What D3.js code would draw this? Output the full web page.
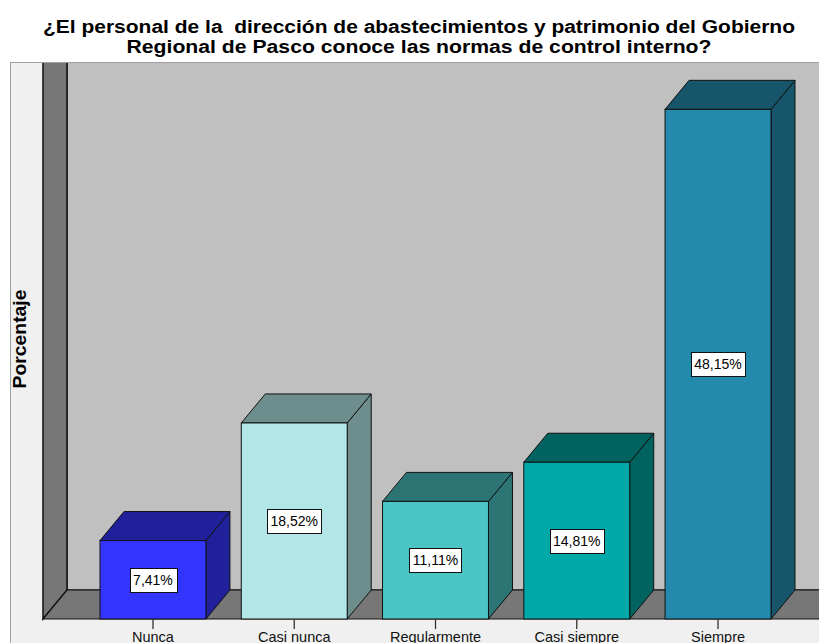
<html>
<head>
<meta charset="utf-8">
<script src="https://d3js.org/d3.v7.min.js"></script>
<style>
  body { margin: 0; background: #fff; }
  text { font-family: Arial, "Liberation Sans", sans-serif; }
</style>
</head>
<body>
<script>
// data
var categories = ["Nunca", "Casi nunca", "Regularmente", "Casi siempre", "Siempre"];
var values = [7.41, 18.52, 11.11, 14.81, 48.15];
var frontColors = ["#3434ff", "#b3e6e6", "#4bc4c4", "#00a8a8", "#238aab"];
var darkColors = ["#20209b", "#6e8e8e", "#2d7474", "#00635f", "#17566a"];
var titleLines = [
    "¿El personal de la  dirección de abastecimientos y patrimonio del Gobierno",
    "Regional de Pasco conoce las normas de control interno?"
];

var width = 819, height = 643;
var depthX = 24, depthY = 29;   // 3d offset of the bars and walls
var frameTop = 62, frameLeft = 10;

var svg = d3.select("body").append("svg")
    .attr("width", width)
    .attr("height", height);

var x = d3.scaleBand()
    .domain(categories)
    .range([43, 828])
    .paddingInner(0.25)
    .paddingOuter(0.4035);

var y = d3.scaleLinear()
    .domain([0, 50])
    .range([619, 89.75]);

var fmt = d3.formatLocale({decimal: ",", thousands: ".", grouping: [3], currency: ["", ""]}).format(".2f");

// title
svg.append("g").selectAll("text")
    .data(titleLines).enter()
    .append("text")
    .attr("x", 419)
    .attr("y", (d, i) => 32.7 + i * 20)
    .attr("text-anchor", "middle")
    .attr("font-size", 18)
    .attr("font-weight", "bold")
    .attr("textLength", (d, i) => i == 0 ? 752 : 585)
    .attr("lengthAdjust", "spacingAndGlyphs")
    .style("white-space", "pre")
    .text(d => d);

// outer frame
svg.append("rect")
    .attr("x", frameLeft + 0.5).attr("y", frameTop + 0.5)
    .attr("width", width).attr("height", height)
    .attr("fill", "#f0f0f0")
    .attr("stroke", "#a0a0a0");

svg.append("clipPath").attr("id", "plotclip")
    .append("rect")
    .attr("x", frameLeft + 1).attr("y", frameTop + 1)
    .attr("width", width).attr("height", height);

var plot = svg.append("g").attr("clip-path", "url(#plotclip)");

var x0 = x.range()[0], x1 = x.range()[1];
var y0 = y(0);

// back wall
plot.append("rect")
    .attr("x", x0 + depthX).attr("y", 0)
    .attr("width", x1).attr("height", y0 - depthY)
    .attr("fill", "#c0c0c0")
    .attr("stroke", "#111").attr("stroke-width", 1.2);

// left wall
plot.append("path")
    .attr("d", d3.line()([[x0, 0], [x0 + depthX, 0], [x0 + depthX, y0 - depthY], [x0, y0]]) + "Z")
    .attr("fill", "#777777")
    .attr("stroke", "#111").attr("stroke-width", 1.5);

// floor
plot.append("path")
    .attr("d", d3.line()([[x0, y0], [x0 + depthX, y0 - depthY], [x1 + depthX, y0 - depthY], [x1, y0]]) + "Z")
    .attr("fill", "#777777")
    .attr("stroke", "#111").attr("stroke-width", 1.2);

// bars
var bars = plot.selectAll("g.bar")
    .data(categories).enter()
    .append("g").attr("class", "bar");

bars.append("path")  // side
    .attr("d", (d, i) => {
        var r = x(d) + x.bandwidth(), t = y(values[i]);
        return d3.line()([[r, t], [r + depthX, t - depthY], [r + depthX, y0 - depthY], [r, y0]]) + "Z";
    })
    .attr("fill", (d, i) => darkColors[i])
    .attr("stroke", "#111").attr("stroke-linejoin", "round");

bars.append("path")  // top
    .attr("d", (d, i) => {
        var l = x(d), r = l + x.bandwidth(), t = y(values[i]);
        return d3.line()([[l, t], [l + depthX, t - depthY], [r + depthX, t - depthY], [r, t]]) + "Z";
    })
    .attr("fill", (d, i) => darkColors[i])
    .attr("stroke", "#111").attr("stroke-linejoin", "round");

bars.append("rect")  // front
    .attr("x", d => x(d))
    .attr("y", (d, i) => y(values[i]))
    .attr("width", x.bandwidth())
    .attr("height", (d, i) => y0 - y(values[i]))
    .attr("fill", (d, i) => frontColors[i])
    .attr("stroke", "#111");

// value labels
bars.each(function(d, i) {
    var g = d3.select(this);
    var cx = x(d) + x.bandwidth() / 2;
    var cy = (y(values[i]) + y0) / 2;
    var box = g.append("rect");
    var t = g.append("text")
        .attr("x", cx).attr("y", cy + 5)
        .attr("text-anchor", "middle")
        .attr("font-size", 14)
        .attr("fill", "#000")
        .text(fmt(values[i]) + "%");
    var w = t.node().getComputedTextLength() + 7;
    box.attr("x", Math.round(cx - w / 2) + 0.5).attr("y", Math.round(cy - 12) + 0.5)
        .attr("width", Math.round(w)).attr("height", 24)
        .attr("fill", "#fff").attr("stroke", "#111");
});

// category axis
var axis = svg.append("g")
    .attr("transform", "translate(0," + y0 + ")")
    .call(d3.axisBottom(x).tickSize(10).tickPadding(3));
axis.select(".domain").remove();
axis.selectAll("line").attr("stroke", "#333").attr("stroke-width", 1.3);
axis.selectAll("text")
    .attr("font-size", 14.5)
    .attr("font-family", "Arial, 'Liberation Sans', sans-serif")
    .attr("fill", "#111");

// y axis title
svg.append("text")
    .attr("transform", "translate(26,339) rotate(-90)")
    .attr("text-anchor", "middle")
    .attr("font-size", 18)
    .attr("font-weight", "bold")
    .attr("textLength", 99)
    .attr("lengthAdjust", "spacingAndGlyphs")
    .text("Porcentaje");
</script>
</body>
</html>
